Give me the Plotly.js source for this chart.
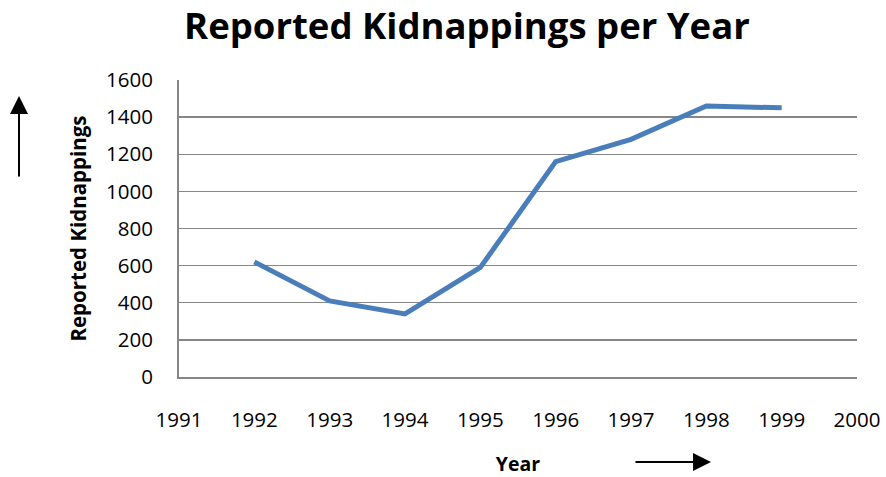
<!DOCTYPE html>
<html>
<head>
<meta charset="utf-8">
<script src="https://cdn.plot.ly/plotly-3.0.1.min.js"></script>
<style>html,body{margin:0;padding:0;background:#fff;}#chart{width:886px;height:477px;}</style>
</head>
<body>
<div id="chart"></div>
<script>
const years = [1992, 1993, 1994, 1995, 1996, 1997, 1998, 1999];
const kidnappings = [620, 410, 340, 590, 1160, 1280, 1460, 1450];
const xTickVals = [1991, 1992, 1993, 1994, 1995, 1996, 1997, 1998, 1999, 2000];
const yTickVals = [0, 200, 400, 600, 800, 1000, 1200, 1400, 1600];

const FONT = '"Open Sans", "Liberation Sans", sans-serif';

const trace = {
  x: years,
  y: kidnappings,
  type: 'scatter',
  mode: 'lines',
  line: {color: '#4a7ebb', width: 5},
  hoverinfo: 'x+y'
};

const layout = {
  width: 886,
  height: 477,
  paper_bgcolor: '#ffffff',
  plot_bgcolor: '#ffffff',
  margin: {l: 179, r: 29, t: 80, b: 100},
  showlegend: false,
  font: {family: FONT, color: '#000'},
  title: {
    text: '<b>Reported Kidnappings per Year</b>',
    font: {family: FONT, size: 36.5, color: '#000'},
    x: 0.527, xref: 'container', xanchor: 'center',
    y: 0.945, yref: 'container', yanchor: 'middle'
  },
  xaxis: {
    range: [1991, 2000],
    tickvals: xTickVals,
    ticktext: xTickVals.map(String),
    showgrid: false,
    zeroline: false,
    showline: true,
    linecolor: '#868686',
    linewidth: 2,
    ticks: '',
    ticklabelstandoff: 23,
    tickfont: {family: FONT, size: 20.5, color: '#000'},
    title: {text: '<b>Year</b>', font: {family: FONT, size: 19.5, color: '#000'}, standoff: 29},
    fixedrange: true
  },
  yaxis: {
    range: [0, 1600],
    tickvals: yTickVals,
    showgrid: true,
    gridcolor: '#868686',
    gridwidth: 1.3,
    zeroline: false,
    showline: true,
    linecolor: '#868686',
    linewidth: 2,
    ticks: '',
    ticklabelstandoff: 20,
    tickfont: {family: FONT, size: 20.5, color: '#000'},
    title: {text: '<b>Reported Kidnappings</b>', font: {family: FONT, size: 20.5, color: '#000'}, standoff: 14},
    fixedrange: true
  },
  annotations: [
    {
      xref: 'paper', yref: 'paper',
      x: (19 - 179) / 678, y: (377 - 96) / 297,
      text: '', showarrow: true,
      axref: 'pixel', ayref: 'pixel',
      ax: 0, ay: 82,
      arrowhead: 2, arrowsize: 1.8, arrowwidth: 2, arrowcolor: '#000'
    },
    {
      xref: 'paper', yref: 'paper',
      x: (711 - 179) / 678, y: (377 - 462) / 297,
      text: '', showarrow: true,
      axref: 'pixel', ayref: 'pixel',
      ax: -77, ay: 0,
      arrowhead: 2, arrowsize: 1.8, arrowwidth: 2, arrowcolor: '#000'
    }
  ]
};

Plotly.newPlot('chart', [trace], layout, {displayModeBar: false, staticPlot: true});
</script>
</body>
</html>
